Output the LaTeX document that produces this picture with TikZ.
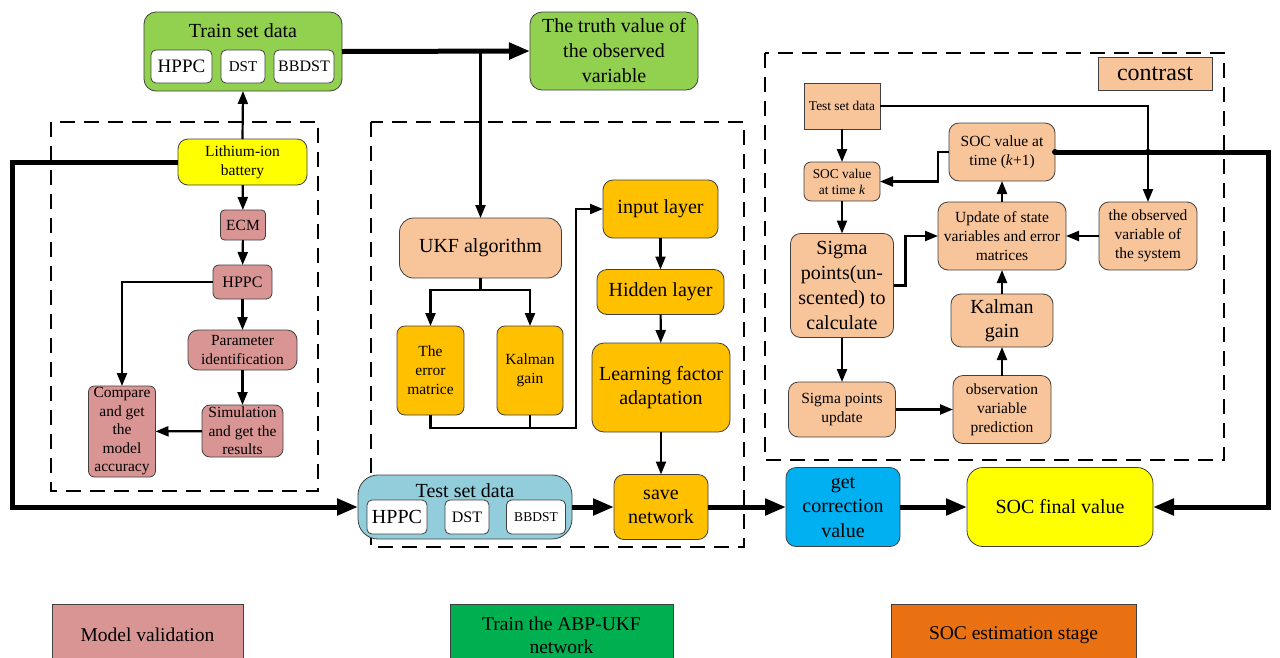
\documentclass[tikz,border=0pt]{standalone}
\usepackage{fontspec}
\setmainfont{Liberation Serif}
\usetikzlibrary{arrows.meta}
\definecolor{cgreen}{HTML}{92D050}
\definecolor{cpeach}{HTML}{F8C49A}
\definecolor{cpink}{HTML}{D99594}
\definecolor{corange}{HTML}{FFC000}
\definecolor{cblue}{HTML}{92CDDC}
\definecolor{ccyan}{HTML}{00B0F0}
\definecolor{cyel}{HTML}{FFFF00}
\definecolor{lgreen}{HTML}{00B050}
\definecolor{lorange}{HTML}{E97112}
\begin{document}
\begin{tikzpicture}[x=1pt,y=-1pt,
 box/.style={draw=black!75, line width=0.8pt, rounded corners=8pt, inner sep=0pt, outer sep=0pt, align=center},
 sq/.style={box, rounded corners=0pt},
 fs/.style={font=\fontsize{13.4}{16}\selectfont},
 fm/.style={font=\fontsize{15.5}{19}\selectfont},
 fb/.style={font=\fontsize{20}{24.5}\selectfont},
 arr/.style={line width=2.2pt, -{Triangle[length=13pt,width=10pt]}},
 ln/.style={line width=2.2pt},
 tarr/.style={line width=5pt, -{Triangle[length=21pt,width=16pt]}},
 dbox/.style={line width=2.5pt, dash pattern=on 15pt off 9pt},
 wb/.style={box, fill=white, rounded corners=5pt, minimum height=33pt}
]
\clip (0,0) rectangle (1280,657);
\fill[white] (0,0) rectangle (1280,657);

% dashed group frames
\draw[dbox] (51,122) rectangle (318,491);
\draw[dbox] (371,122) rectangle (744,547);
\draw[dbox] (765,53) rectangle (1224,460);

% top
\node[box, fill=cgreen, rounded corners=12pt, minimum width=198pt, minimum height=79pt] (train) at (243,51.5) {};
\node[fb] (trainlbl) at (243,31) {Train set data};
\node[wb, minimum width=61pt, font=\fontsize{19}{22}\selectfont] (hppca) at (181.5,66.5) {HPPC};
\node[wb, minimum width=44pt, font=\fontsize{15}{18}\selectfont] (dsta) at (243,66.5) {DST};
\node[wb, minimum width=60pt, font=\fontsize{16}{18}\selectfont] (bbdsta) at (304,66.5) {BBDST};
\node[box, fill=cgreen, rounded corners=12pt, minimum width=168pt, minimum height=78pt, font=\fontsize{20}{25}\selectfont] (truth) at (614,51) {The truth value of\\the observed\\variable};

% model validation
\node[box, fill=cyel, rounded corners=10pt, minimum width=129pt, minimum height=46pt, fm] (bat) at (242.5,162) {Lithium-ion\\battery};
\node[box, fill=cpink, rounded corners=4pt, minimum width=45pt, minimum height=30pt, fm] (ecm) at (243,225) {ECM};
\node[box, fill=cpink, rounded corners=6pt, minimum width=59pt, minimum height=34pt, font=\fontsize{16}{19}\selectfont] (hppcb) at (242.5,282) {HPPC};
\node[box, fill=cpink, rounded corners=10pt, minimum width=109pt, minimum height=40pt, fm] (param) at (242.5,350) {Parameter\\identification};
\node[box, fill=cpink, rounded corners=8pt, minimum width=81pt, minimum height=52pt, font=\fontsize{15.5}{18.5}\selectfont] (sim) at (242.5,431) {Simulation\\and get the\\results};
\node[box, fill=cpink, rounded corners=6pt, minimum width=67pt, minimum height=91pt, font=\fontsize{15.5}{18.5}\selectfont] (cmp) at (122,431.5) {Compare\\and get\\the\\model\\accuracy};

% train network
\node[box, fill=cpeach, rounded corners=14pt, minimum width=162pt, minimum height=60pt, fb] (ukf) at (480.5,248) {UKF algorithm};
\node[box, fill=corange, rounded corners=8pt, minimum width=67pt, minimum height=89pt, fm] (err) at (430.5,370.5) {The\\error\\matrice};
\node[box, fill=corange, rounded corners=8pt, minimum width=66pt, minimum height=89pt, fm] (kal) at (530,370.5) {Kalman\\gain};
\node[box, fill=corange, rounded corners=10pt, minimum width=115pt, minimum height=58pt, fb] (inp) at (660.5,209) {input layer};
\node[box, fill=corange, rounded corners=10pt, minimum width=127pt, minimum height=45pt, fb] (hid) at (660.5,292) {Hidden layer};
\node[box, fill=corange, rounded corners=12pt, minimum width=138pt, minimum height=89pt, fb] (learn) at (661,387.5) {Learning factor\\adaptation};
\node[box, fill=corange, rounded corners=10pt, minimum width=94pt, minimum height=65pt, fb] (save) at (661,507) {save\\network};
\node[box, fill=cblue, rounded corners=20pt, minimum width=214pt, minimum height=64pt] (testb) at (465,507) {};
\node[fb] (testlbl) at (465,491) {Test set data};
\node[wb, minimum width=60pt, minimum height=34pt, font=\fontsize{20}{22}\selectfont] (hppcc) at (397,517) {HPPC};
\node[wb, minimum width=44pt, minimum height=34pt, font=\fontsize{16}{18}\selectfont] (dstc) at (467,517) {DST};
\node[wb, minimum width=59pt, minimum height=34pt, font=\fontsize{13.5}{16}\selectfont] (bbdstc) at (536,517) {BBDST};

% SOC estimation
\node[sq, fill=cpeach, minimum width=114pt, minimum height=33pt, font=\fontsize{24}{26}\selectfont] (contrast) at (1155,73.5) {contrast};
\node[sq, fill=cpeach, minimum width=76pt, minimum height=46pt, fs] (testr) at (842,106) {Test set data};
\node[box, fill=cpeach, rounded corners=7pt, minimum width=76pt, minimum height=39pt, fs] (sock) at (842,181.5) {SOC value\\at time \textit{k}};
\node[box, fill=cpeach, rounded corners=10pt, minimum width=106pt, minimum height=58pt, fm] (sockk) at (1002,152) {SOC value at\\time (\textit{k}+1)};
\node[box, fill=cpeach, rounded corners=10pt, minimum width=128pt, minimum height=68pt, fm] (upd) at (1002,236) {Update of state\\variables and error\\matrices};
\node[box, fill=cpeach, rounded corners=10pt, minimum width=98pt, minimum height=68pt, fm] (obs) at (1148,236) {the observed\\variable of\\the system};
\node[box, fill=cpeach, rounded corners=10pt, minimum width=103pt, minimum height=104pt, font=\fontsize{20}{25}\selectfont] (sigc) at (842,285.5) {Sigma\\points(un-\\scented) to\\calculate};
\node[box, fill=cpeach, rounded corners=10pt, minimum width=102pt, minimum height=53pt, fb] (kalr) at (1002,320.5) {Kalman\\gain};
\node[box, fill=cpeach, rounded corners=10pt, minimum width=107pt, minimum height=55pt, fm] (sigu) at (842,409.5) {Sigma points\\update};
\node[box, fill=cpeach, rounded corners=10pt, minimum width=98pt, minimum height=68pt, fm] (obsp) at (1002,409.5) {observation\\variable\\prediction};
\node[box, fill=ccyan, rounded corners=10pt, minimum width=114pt, minimum height=79pt, fb] (corr) at (843,507) {get\\correction\\value};
\node[box, fill=cyel, rounded corners=16pt, minimum width=186pt, minimum height=79pt, fb] (final) at (1060,507) {SOC final value};

% legend
\node[sq, fill=cpink, minimum width=191pt, minimum height=62pt, font=\fontsize{19.5}{23}\selectfont] (lmv) at (147.5,635) {Model validation};
\node[sq, fill=lgreen, minimum width=223pt, minimum height=62pt, font=\fontsize{19.5}{23}\selectfont] (labp) at (561.5,635) {Train the ABP-UKF\\network};
\node[sq, fill=lorange, minimum width=245pt, minimum height=62pt, font=\fontsize{19.5}{23}\selectfont] (lsoc) at (1013.5,635) {SOC estimation stage};

% connectors: model validation
\draw[arr] (bat.north) -- (train.south);
\draw[tarr] (bat.west) -- (12,162) |- (testb.west);
\draw[arr] (bat) -- (ecm);
\draw[arr] (ecm) -- (hppcb);
\draw[arr] (hppcb) -- (param);
\draw[arr] (param) -- (sim);
\draw[arr] (sim) -- (cmp);
\draw[arr] (hppcb.west) -| (cmp.north);

% connectors: training
\draw[tarr] (train.east) -- (truth.west);
\coordinate (br) at (480.5,51);
\draw[arr] (br) -- (ukf.north);
\draw[ln] (ukf.south) -- ++(0,12) coordinate (ub);
\draw[arr] (ub) -| (err.north);
\draw[arr] (ub) -| (kal.north);
\draw[arr] (err.south) |- (576,428) |- (inp.west);
\draw[ln] (kal.south) -- ++(0,13);
\draw[arr] (inp) -- (hid);
\draw[arr] (hid) -- (learn);
\draw[arr] (learn) -- (save);
\draw[tarr] (testb.east) -- (save.west);
\draw[tarr] (save.east) -- (corr.west);
\draw[tarr] (corr.east) -- (final.west);

% connectors: SOC estimation
\draw[arr] (testr.east) -| (obs.north);
\draw[arr] (testr) -- (sock);
\draw[arr] (sock) -- (sigc);
\draw[arr] (sigc) -- (sigu);
\draw[arr] (sigu) -- (obsp);
\draw[arr] (obsp) -- (kalr);
\draw[arr] (kalr) -- (upd);
\draw[arr] (upd) -- (sockk);
\draw[arr] (obs) -- (upd);
\draw[arr] (sockk.west) -- ++(-11,0) |- (sock.east);
\draw[arr] (sigc.east) -- ++(12,0) |- (upd.west);
\draw[tarr] (sockk.east) -- (1268,152) |- (final.east);
\fill (obs.north |- sockk.east) circle (3.2pt);
\fill (sockk.east) circle (3pt);
\end{tikzpicture}
\end{document}
